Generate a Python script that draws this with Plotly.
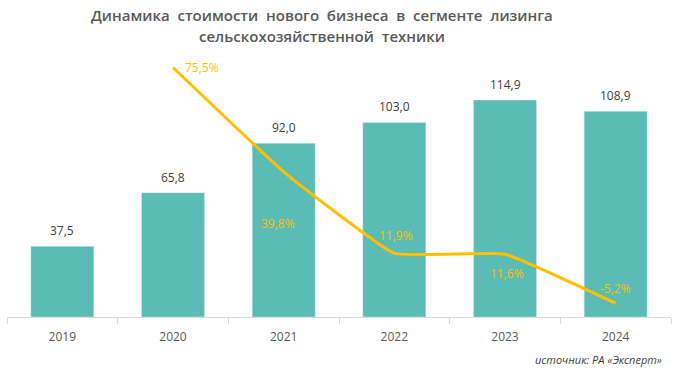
import plotly.graph_objects as go

years = ["2019", "2020", "2021", "2022", "2023", "2024"]
volume = [37.5, 65.8, 92.0, 103.0, 114.9, 108.9]
growth_years = ["2020", "2021", "2022", "2023", "2024"]
growth = [75.5, 39.8, 11.9, 11.6, -5.2]

def fmt(v):
    return f"{v:.1f}".replace(".", ",")

fig = go.Figure()
fig.add_trace(go.Bar(
    x=years, y=volume, marker_color="#5BBBB5", hoverinfo="skip",
))
fig.add_trace(go.Scatter(
    x=growth_years, y=growth, yaxis="y2", mode="lines",
    line=dict(color="#FFC000", width=3, shape="spline", smoothing=0.3),
    hoverinfo="skip",
))

# bar value labels (category index positions)
for i, v in enumerate(volume):
    fig.add_annotation(x=i, y=v, xref="x", yref="y", text=fmt(v), showarrow=False,
                       yanchor="bottom", yshift=5, font=dict(color="#404040", size=12))

# growth labels with pixel offsets
offsets = [(29, 0), (-6, -52), (2, 18), (2, -19), (0, 15)]
for x, v, (dx, dy) in zip(growth_years, growth, offsets):
    fig.add_annotation(x=years.index(x), y=v, xref="x", yref="y2", text=fmt(v) + "%",
                       showarrow=False, xshift=dx, yshift=dy,
                       font=dict(color="#FFC000", size=12))

fig.add_annotation(xref="paper", yref="paper", x=0.99, y=-0.155, xanchor="right",
                   yanchor="middle", text="<i>источник: РА «Эксперт»</i>", showarrow=False,
                   font=dict(color="#404040", size=11))

title_lines = ["Динамика\u00a0 стоимости\u00a0 нового\u00a0 бизнеса\u00a0 в\u00a0 сегменте\u00a0 лизинга",
               "сельскохозяйственной\u00a0 техники"]
for i, t in enumerate(title_lines):
    fig.add_annotation(xref="paper", yref="paper", x=0.474, y=1 + (40 - 15 - 21 * i) / 277,
                       xanchor="center", yanchor="middle", text=t,
                       showarrow=False, font=dict(size=15, color="#595959", weight=600))

fig.update_layout(
    width=678, height=372,
    margin=dict(l=7, r=7, t=40, b=55),
    paper_bgcolor="white", plot_bgcolor="white",
    showlegend=False, bargap=0.43,
    font=dict(family="Open Sans, sans-serif", color="#595959"),
    xaxis=dict(type="category", categoryorder="array", categoryarray=years,
               range=[-0.5, 5.5], showline=True, linecolor="#D9D9D9", ticks="outside",
               tickson="boundaries", ticklen=6, tickcolor="#D9D9D9",
               tickfont=dict(size=12, color="#595959"), ticklabelstandoff=9),
    yaxis=dict(range=[0, 146.6], visible=False, showgrid=False),
    yaxis2=dict(range=[-9.9, 84.9], overlaying="y", visible=False, showgrid=False),
)

fig.write_html("out.html", config={"displayModeBar": False},
               post_script="document.body.style.margin='0';")
